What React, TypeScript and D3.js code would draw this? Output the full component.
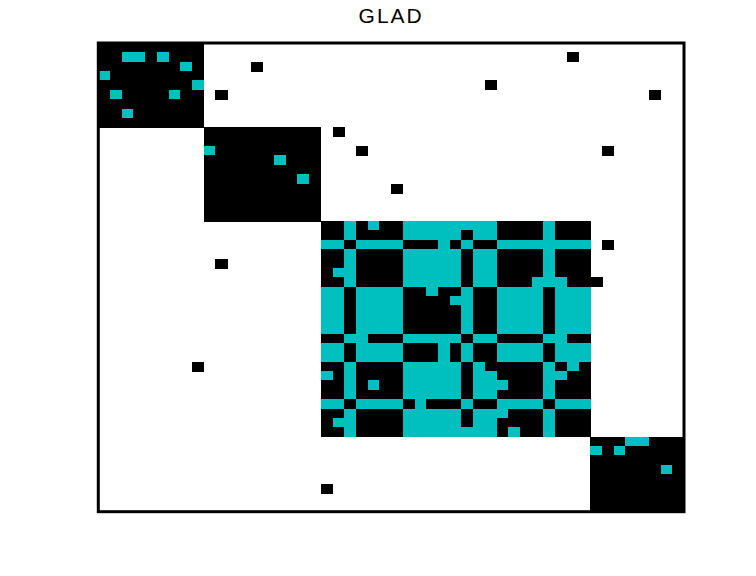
import React from "react";
import * as d3 from "d3";

const N = 50;

// diagonal blocks [first, last], filled black
const blocks: [number, number][] = [
  [0, 8],
  [9, 18],
  [19, 41],
  [42, 49],
];

// cyan cells inside the outer blocks [row, col]
const cyanCells: [number, number][] = [
  [1, 2], [1, 3], [1, 5], [2, 7], [3, 0], [4, 8], [5, 1], [5, 6], [7, 2],
  [11, 9], [12, 15], [14, 17],
  [42, 45], [42, 46], [43, 42], [43, 44], [45, 48],
];

// isolated black cells off the blocks [row, col]
const blackCells: [number, number][] = [
  [1, 40], [2, 13], [4, 33], [5, 10], [5, 47], [9, 20], [11, 22], [11, 43],
  [15, 25], [21, 43], [23, 10], [25, 42], [34, 8], [47, 19],
];

// rows 19..41, cols 19..41 of the large block (1 = black, 2 = cyan)
const centerStart = 19;
const centerRows = [
  "11212112222222211112111",
  "11211112222212211112111",
  "22122221112121122222222",
  "11211112222212211112111",
  "11211112222212211112111",
  "12211112222212211112111",
  "11211112222212211122211",
  "22122221121121122221222",
  "22122221111221122221222",
  "22122221111121122221222",
  "22122221111121122221222",
  "22122221111121122221222",
  "11221112222212211112211",
  "22122221112121122221222",
  "22122221112121122221222",
  "11211112222212111112121",
  "21211112222212211112211",
  "11212112222212221112111",
  "11211112222212211112111",
  "22122221211121122221222",
  "11211112222212221112111",
  "12211112222212211112111",
  "11211112222222212112111",
];

const colors: Record<number, string> = { 1: "#000000", 2: "#00bfbf" };

const buildGrid = () => {
  const grid: number[][] = d3.range(N).map(() => d3.range(N).map(() => 0));
  blocks.forEach(([a, b]) => {
    for (let r = a; r <= b; r++) for (let c = a; c <= b; c++) grid[r][c] = 1;
  });
  cyanCells.forEach(([r, c]) => (grid[r][c] = 2));
  blackCells.forEach(([r, c]) => (grid[r][c] = 1));
  centerRows.forEach((row, i) => {
    row.split("").forEach((ch, j) => {
      grid[centerStart + i][centerStart + j] = +ch;
    });
  });
  return grid;
};

const App: React.FC = () => {
  const left = 98.3;
  const right = 684;
  const top = 43;
  const bottom = 511.7;

  const x = d3.scaleBand<number>().domain(d3.range(N)).range([left, right]).padding(0);
  const y = d3.scaleBand<number>().domain(d3.range(N)).range([top, bottom]).padding(0);

  const grid = buildGrid();
  const cells: { r: number; c: number; v: number }[] = [];
  grid.forEach((row, r) => row.forEach((v, c) => v && cells.push({ r, c, v })));

  return (
    <svg
      width={756}
      height={576}
      style={{ position: "absolute", left: 0, top: 0, background: "#fff" }}
    >
      <rect x={0} y={0} width={756} height={576} fill="#fff" />
      <g shapeRendering="crispEdges">
        {cells.map((d) => (
          <rect
            key={`${d.r}-${d.c}`}
            x={x(d.c)}
            y={y(d.r)}
            width={x.bandwidth() + 0.6}
            height={y.bandwidth() + 0.6}
            fill={colors[d.v]}
          />
        ))}
      </g>
      <rect
        x={left}
        y={top}
        width={right - left}
        height={bottom - top}
        fill="none"
        stroke="#000"
        strokeWidth={3}
      />
      <text
        x={(left + right) / 2}
        y={22.5}
        textAnchor="middle"
        fontFamily="'Liberation Sans', Arial, sans-serif"
        fontSize={21}
        letterSpacing={2}
      >
        GLAD
      </text>
    </svg>
  );
};

export default App;
